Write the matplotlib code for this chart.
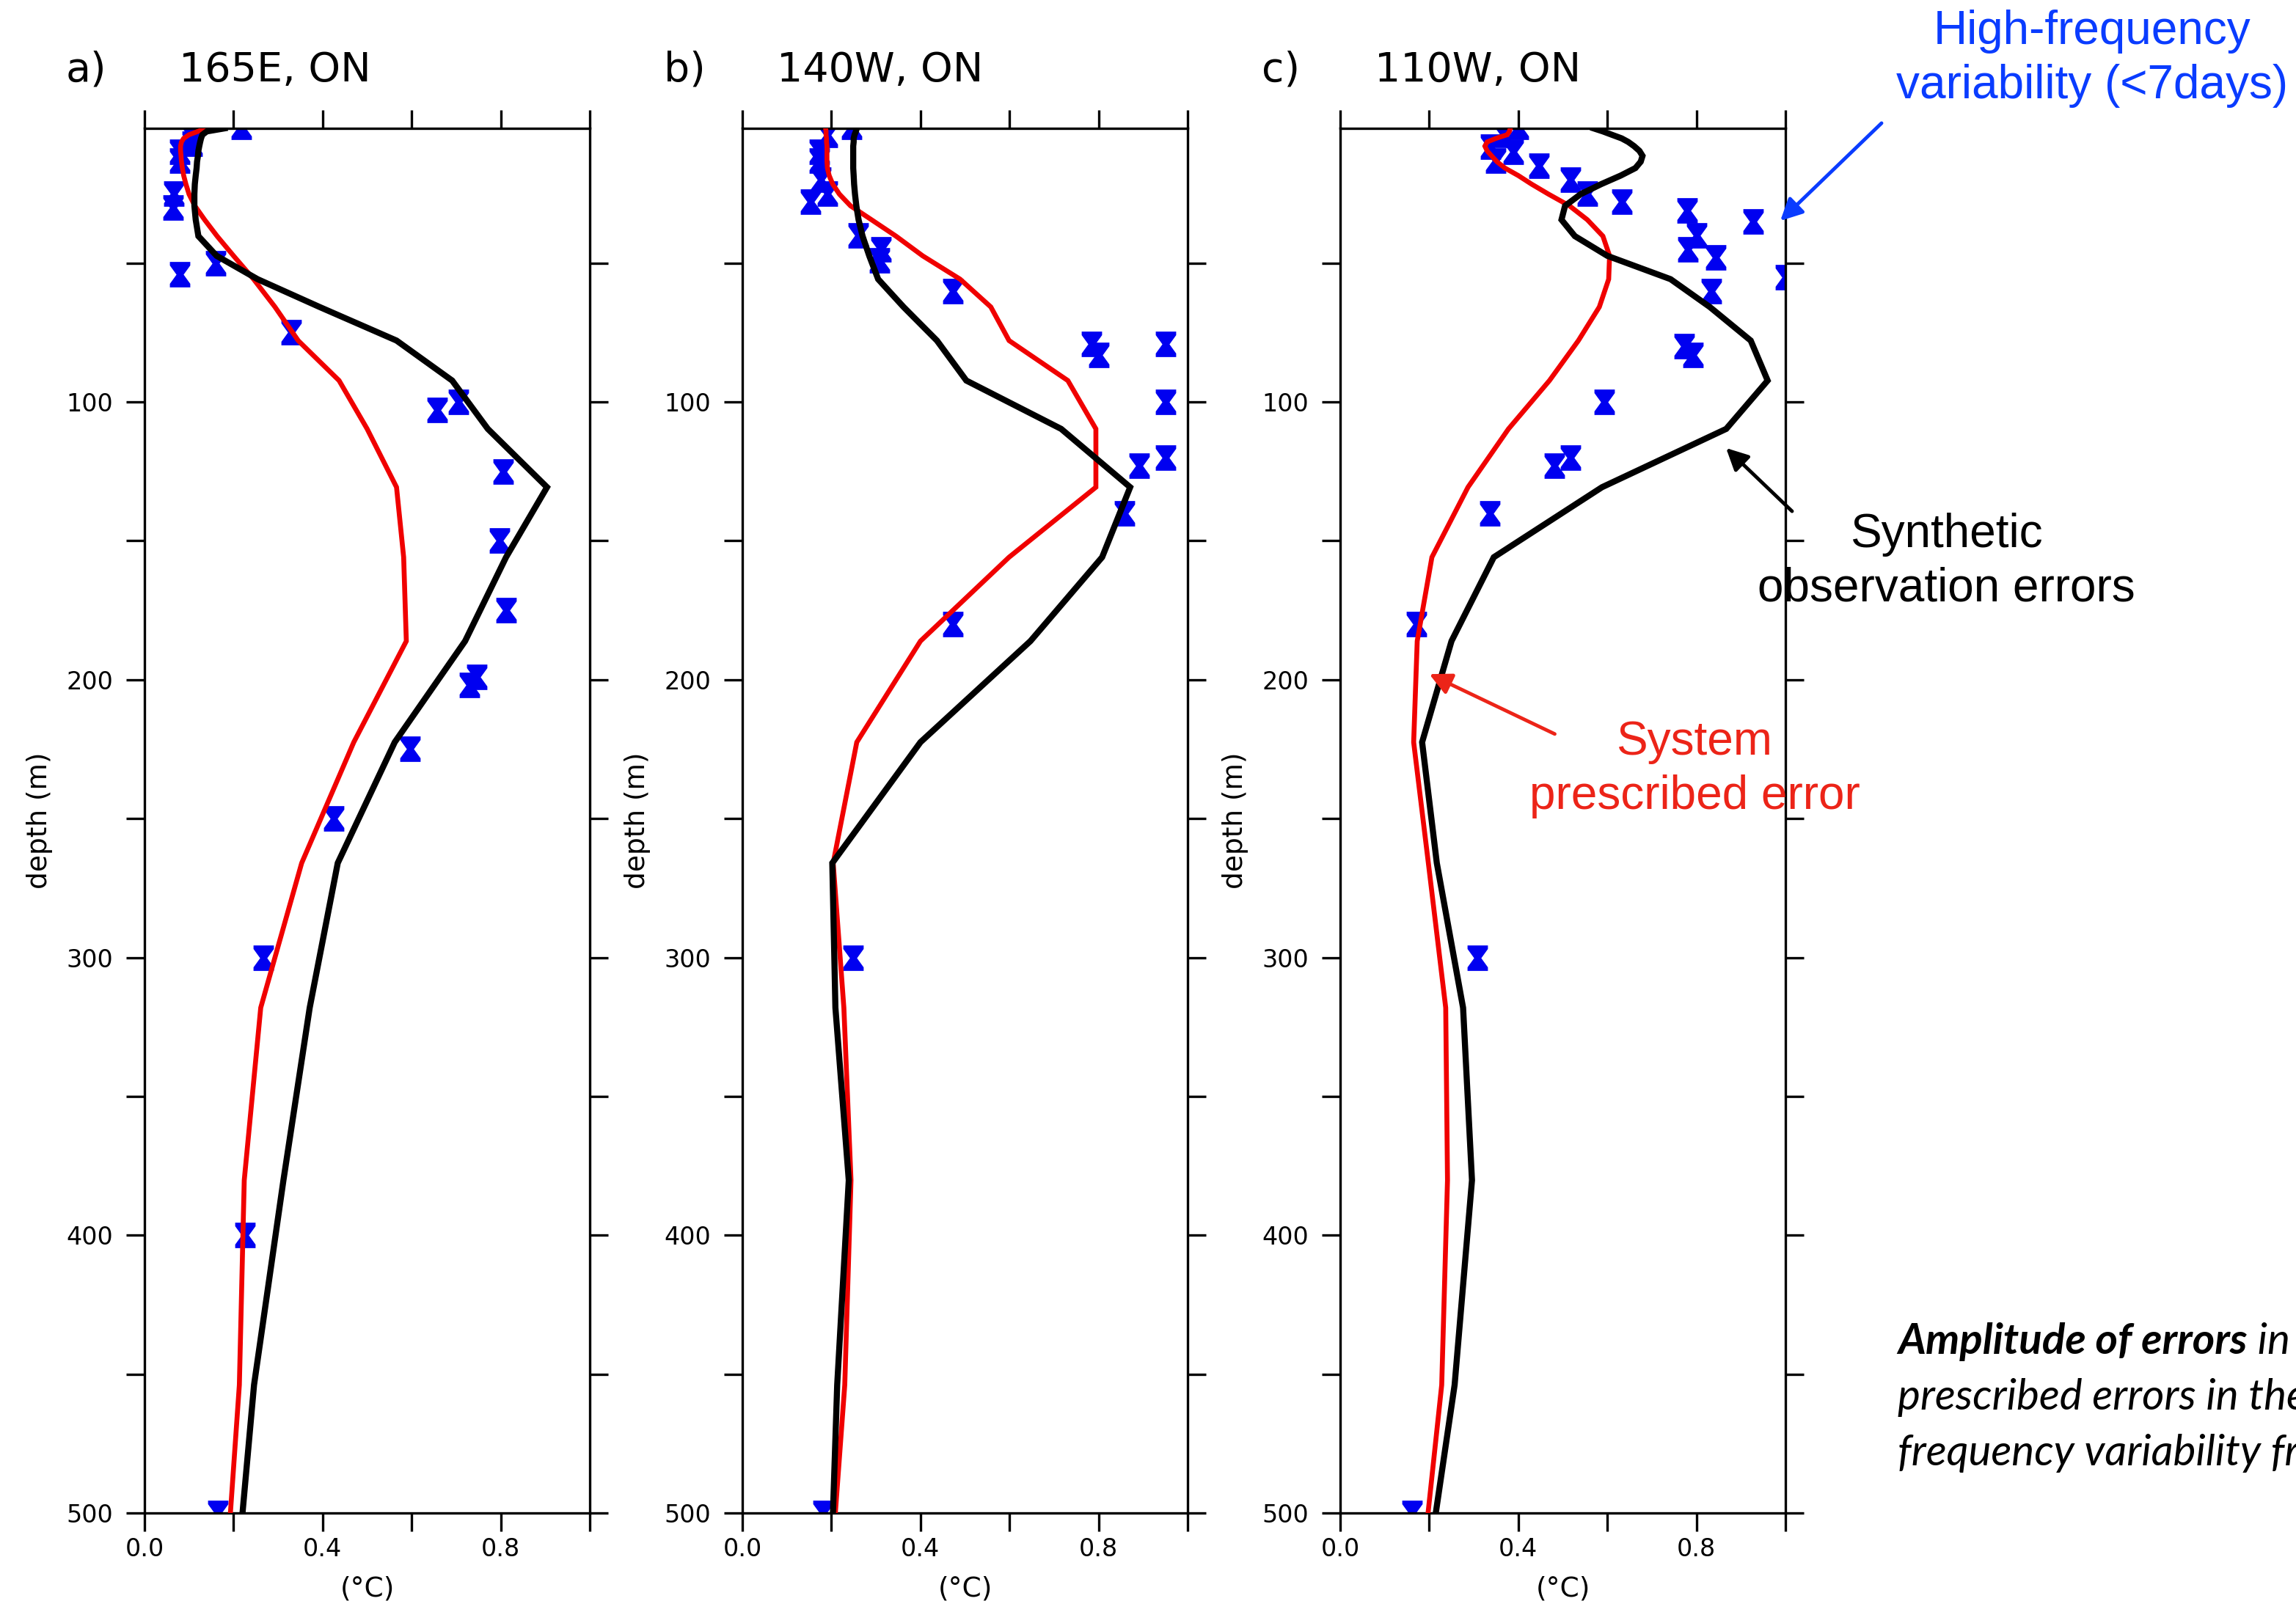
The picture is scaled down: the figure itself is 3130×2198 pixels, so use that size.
import numpy as np
import matplotlib
matplotlib.use("Agg")
import matplotlib.pyplot as plt
from matplotlib.path import Path
from matplotlib.patches import FancyArrowPatch

# ---------------- data ----------------
levels = [1.5, 2.6, 3.8, 5.1, 6.4, 7.9, 9.6, 11.4, 13.5, 15.8, 18.5, 21.6, 25.2, 29.4,
          34.4, 40.3, 47.4, 55.8, 65.8, 77.9, 92.3, 109.7, 130.7, 155.9, 186.1, 222.5,
          266.0, 318.1, 380.2, 453.9, 541.1]

a_synth = [0.18, 0.14, 0.13, 0.127, 0.125, 0.123, 0.121, 0.12, 0.118, 0.117, 0.115, 0.113,
           0.112, 0.112, 0.115, 0.121, 0.162, 0.254, 0.393, 0.566, 0.691, 0.771, 0.904,
           0.812, 0.72, 0.562, 0.434, 0.371, 0.312, 0.246, 0.197]
a_system = [0.138, 0.12, 0.1, 0.088, 0.083, 0.081, 0.081, 0.082, 0.083, 0.085, 0.088, 0.093,
            0.1, 0.113, 0.135, 0.163, 0.2, 0.245, 0.293, 0.345, 0.437, 0.5, 0.566, 0.582,
            0.588, 0.47, 0.353, 0.261, 0.224, 0.213, 0.175]

b_synth = [0.257, 0.255, 0.252, 0.25, 0.25, 0.249, 0.249, 0.249, 0.249, 0.249, 0.25, 0.251,
           0.253, 0.256, 0.261, 0.27, 0.285, 0.305, 0.362, 0.437, 0.503, 0.716, 0.871,
           0.808, 0.647, 0.4, 0.202, 0.209, 0.239, 0.213, 0.195]
b_system = [0.187, 0.188, 0.188, 0.189, 0.189, 0.19, 0.19, 0.19, 0.19, 0.191, 0.195, 0.203,
            0.218, 0.243, 0.29, 0.345, 0.405, 0.489, 0.558, 0.599, 0.731, 0.794, 0.794,
            0.599, 0.4, 0.257, 0.204, 0.228, 0.244, 0.23, 0.19]

c_synth = [0.569, 0.59, 0.61, 0.632, 0.647, 0.66, 0.672, 0.679, 0.675, 0.663, 0.63, 0.586,
           0.54, 0.505, 0.497, 0.527, 0.6, 0.742, 0.83, 0.922, 0.96, 0.867, 0.588, 0.345,
           0.25, 0.184, 0.217, 0.276, 0.296, 0.257, 0.177]
c_system = [0.382, 0.38, 0.375, 0.35, 0.33, 0.325, 0.33, 0.34, 0.352, 0.37, 0.4, 0.43,
            0.468, 0.515, 0.555, 0.59, 0.605, 0.603, 0.582, 0.535, 0.47, 0.378, 0.287,
            0.206, 0.173, 0.165, 0.198, 0.237, 0.241, 0.228, 0.17]

a_hf_depth = [1, 4, 7, 10, 13, 25, 30, 50, 54, 75, 100, 103, 125, 150, 175, 199, 202, 225,
              250, 300, 400, 500]
a_hf_val = [0.217, 0.103, 0.107, 0.079, 0.079, 0.066, 0.064, 0.159, 0.079, 0.329, 0.705,
            0.658, 0.805, 0.797, 0.812, 0.746, 0.730, 0.597, 0.425, 0.267, 0.226, 0.165]

b_hf_depth = [1, 4, 10, 13, 20, 25, 28, 40, 45, 49, 60, 79, 79, 83, 100, 120, 123, 140,
              180, 300, 500]
b_hf_val = [0.246, 0.191, 0.173, 0.173, 0.176, 0.191, 0.153, 0.261, 0.311, 0.308, 0.472,
            0.784, 0.951, 0.801, 0.951, 0.951, 0.891, 0.858, 0.472, 0.248, 0.181]

c_hf_depth = [1, 4, 8, 10, 13, 15, 20, 25, 28, 31, 35, 40, 45, 48, 55, 60, 80, 83, 100,
              120, 123, 140, 180, 300, 500]
c_hf_val = [0.40, 0.367, 0.338, 0.389, 0.349, 0.446, 0.518, 0.556, 0.632, 0.779, 0.928,
            0.801, 0.781, 0.843, 1.0, 0.834, 0.772, 0.792, 0.593, 0.517, 0.481, 0.336,
            0.171, 0.308, 0.162]

panel_letters = ["a)", "b)", "c)"]
panel_titles = ["165E, ON", "140W, ON", "110W, ON"]
x_ticks = [0.0, 0.2, 0.4, 0.6, 0.8, 1.0]
x_ticklabels = ["0.0", "", "0.4", "", "0.8", ""]
y_ticks = [50, 100, 150, 200, 250, 300, 350, 400, 450, 500]
y_ticklabels = ["", "100", "", "200", "", "300", "", "400", "", "500"]

synth = [a_synth, b_synth, c_synth]
system = [a_system, b_system, c_system]
hf_depth = [a_hf_depth, b_hf_depth, c_hf_depth]
hf_val = [a_hf_val, b_hf_val, c_hf_val]

# ---------------- figure ----------------
W, H = 3130, 2198
fig = plt.figure(figsize=(W / 100, H / 100), dpi=100)
fig.patch.set_facecolor("white")


def fx(x):
    return x / W


def fy(y):
    return 1 - y / H


# hourglass marker
hg = Path([(-0.4, 0.5), (0.4, 0.5), (0.4, 0.36), (0.14, 0.0), (0.4, -0.36),
           (0.4, -0.5), (-0.4, -0.5), (-0.4, -0.36), (-0.14, 0.0), (-0.4, 0.36),
           (-0.4, 0.5)],
          [Path.MOVETO] + [Path.LINETO] * 9 + [Path.CLOSEPOLY])

lefts = [197, 1012, 1827]
ax_w = 607
top_px, bot_px = 175, 2063
letter_x = [90, 905, 1720]
title_x = [244, 1059, 1874]

for i in range(3):
    ax = fig.add_axes([fx(lefts[i]), fy(bot_px), ax_w / W, (bot_px - top_px) / H])
    ax.plot(hf_val[i], hf_depth[i], linestyle="none", marker=hg, markersize=25,
            color="#0000f0", markeredgewidth=0, zorder=2)
    ax.plot(system[i], levels, color="#f00000", lw=4.8, zorder=3, solid_joinstyle="miter")
    ax.plot(synth[i], levels, color="black", lw=6.0, zorder=4, solid_joinstyle="miter")
    ax.set_xlim(0, 1.0)
    ax.set_ylim(500, 1.5)
    ax.set_xticks(x_ticks)
    ax.set_xticklabels(x_ticklabels)
    ax.set_yticks(y_ticks)
    ax.set_yticklabels(y_ticklabels)
    ax.tick_params(axis="both", which="both", direction="out", top=True, right=True,
                   length=18, width=2.4, labelsize=24)
    ax.tick_params(axis="x", pad=6)
    ax.tick_params(axis="y", pad=13)
    for s in ax.spines.values():
        s.set_linewidth(2.4)
    ax.text(0.5, -0.0546, "(\u00b0C)", transform=ax.transAxes, ha="center", va="center",
            fontsize=27)
    ax.text(-0.235, 0.5, "depth (m)", transform=ax.transAxes, ha="center", va="center",
            rotation=90, fontsize=27)
    fig.text(fx(letter_x[i]), fy(96), panel_letters[i], ha="left", va="center", fontsize=40)
    fig.text(fx(title_x[i]), fy(96), panel_titles[i], ha="left", va="center", fontsize=40)

# ---------------- annotations ----------------
blue = "#0a3cff"
red = "#ec2418"
fig.text(fx(2852), fy(80), "High-frequency\nvariability (<7days)", ha="center", va="center",
         fontsize=46, color=blue, family="Liberation Sans", linespacing=1.28)
fig.text(fx(2653), fy(766), "Synthetic\nobservation errors", ha="center", va="center",
         fontsize=46, color="black", family="Liberation Sans", linespacing=1.28)
fig.text(fx(2310), fy(1049), "System\nprescribed error", ha="center", va="center",
         fontsize=46, color=red, family="Liberation Sans", linespacing=1.28)

arrows = [((2567, 166), (2425, 303), blue), ((2445, 699), (2351, 609), "black"),
          ((2122, 1002), (1946, 918), red)]
for (x0, y0), (x1, y1), col in arrows:
    fig.add_artist(FancyArrowPatch((fx(x0), fy(y0)), (fx(x1), fy(y1)),
                                   transform=fig.transFigure, arrowstyle="-|>",
                                   mutation_scale=45, lw=3.5, color=col))

# bottom-right caption (bold-italic + italic); it runs off the right edge as in the source
fs_cap = 42
t1 = fig.text(fx(2587), fy(1830), "Amplitude of errors", ha="left", va="center",
              fontsize=fs_cap, family="Lato", style="italic", weight="bold")
fig.canvas.draw()
bb = t1.get_window_extent()
fig.text(bb.x1 / W, fy(1830), " in", ha="left", va="center", fontsize=fs_cap,
         family="Lato", style="italic")
fig.text(fx(2587), fy(1906), "prescribed errors in the", ha="left", va="center",
         fontsize=fs_cap, family="Lato", style="italic")
fig.text(fx(2587), fy(1982), "frequency variability from", ha="left", va="center",
         fontsize=fs_cap, family="Lato", style="italic")

fig.savefig("out.png", dpi=100)
